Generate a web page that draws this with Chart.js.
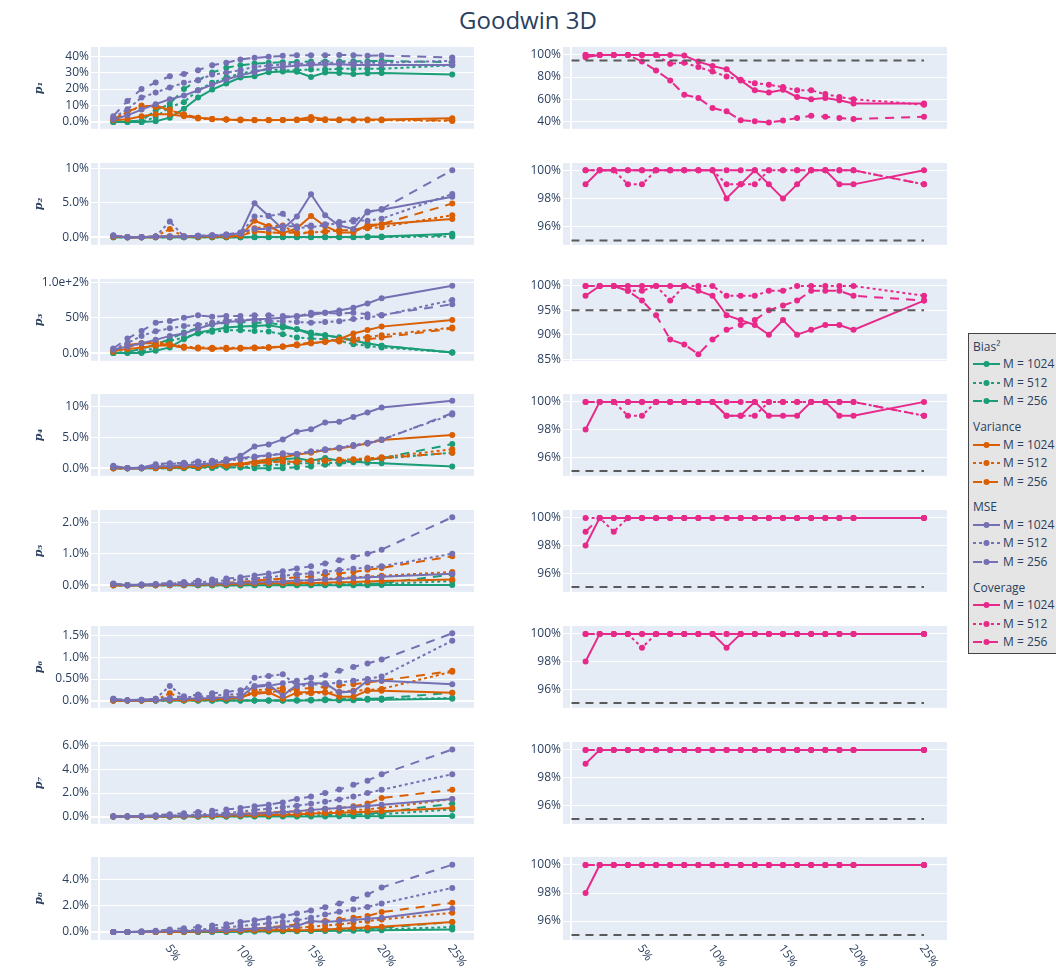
<!DOCTYPE html>
<html><head><meta charset="utf-8">
<script src="https://cdn.jsdelivr.net/npm/chart.js@4/dist/chart.umd.min.js"></script>
<style>
body{margin:0;background:#fff;width:1056px;height:972px;overflow:hidden;position:relative;font-family:"Open Sans",sans-serif;}
canvas{position:absolute;}
#title{position:absolute;left:0;width:1056px;top:5px;line-height:30px;text-align:center;font-size:24px;color:#2a3f5f;}
#legend{position:absolute;left:968px;top:333px;width:100px;height:321px;background:#e5e5e5;border:1px solid #444;box-sizing:border-box;}
#legend div{position:absolute;font-size:12px;line-height:16px;color:#2a3f5f;white-space:nowrap;}
#legend svg{position:absolute;}
</style></head><body>
<div id="title">Goodwin 3D</div>
<div id="legend"></div>
<script>
// ---------- data (percent units) ----------
const X_PCT = [1,2,3,4,5,6,7,8,9,10,11,12,13,14,15,16,17,18,19,20,25];
const X_TICKS = [5,10,15,20,25];
const X_TICK_LABELS = ['5%','10%','15%','20%','25%'];
const PARAM_NAMES = ['p₁','p₂','p₃','p₄','p₅','p₆','p₇','p₈'];
const GROUP_NAMES = ['Bias²','Variance','MSE','Coverage'];
const M_LABELS = ['M = 1024','M = 512','M = 256'];
const COVERAGE_TARGET = 95;

const P1_BIAS_1024 = [0.0,0.0,0.0,0.4,2.6,8.0,14.8,19.7,23.4,27.0,27.8,30.3,30.7,30.5,27.4,30.0,29.8,29.2,29.6,29.8,28.8];
const P1_BIAS_512  = [0.0,0.0,0.0,3.0,9.0,12.0,19.3,23.8,27.0,29.4,31.0,31.9,31.5,31.5,31.9,31.9,32.3,32.3,32.3,32.3,34.5];
const P1_BIAS_256  = [0.0,0.4,0.8,7.0,11.0,20.0,25.4,30.0,33.0,34.5,35.5,36.0,36.3,36.5,36.8,36.8,36.8,37.0,37.0,37.2,36.3];
const P1_VAR_1024  = [1.0,1.6,3.5,4.7,4.7,3.5,2.6,1.8,1.4,1.0,1.0,1.0,1.2,1.4,3.0,1.6,1.4,1.4,1.4,1.4,2.2];
const P1_VAR_512   = [1.0,6.0,10.0,9.0,7.5,4.0,2.0,1.6,1.4,1.2,1.2,1.2,1.2,1.2,1.6,1.2,1.0,1.0,1.0,1.0,0.6];
const P1_VAR_256   = [1.6,6.5,9.1,10.2,7.0,4.7,2.6,1.8,1.4,1.4,1.2,1.2,1.2,1.2,1.2,1.2,1.2,1.2,1.2,1.2,1.0];
const P1_MSE_1024  = [1.4,4.0,7.5,10.8,13.8,16.0,19.3,22.7,25.8,28.4,30.3,32.7,33.5,34.3,34.7,35.1,35.1,34.7,34.7,34.7,34.7];
const P1_MSE_512   = [2.6,7.7,14.8,17.9,21.0,23.8,25.4,28.8,30.0,31.5,33.5,34.3,35.0,35.3,35.7,36.0,36.0,36.0,36.0,36.0,37.2];
const P1_MSE_256   = [3.5,12.8,20.0,24.0,27.8,29.2,31.5,34.5,36.0,38.0,39.0,39.6,40.2,40.6,40.6,40.6,40.8,40.6,40.2,40.4,39.2];
const P1_COV_1024  = [98,100,100,100,100,100,100,99.4,94,90,87,77,68,66,68.5,62,60,61,59,56,56];
const P1_COV_512   = [100,100,100,100,100,100,92,93,89,85,80.5,77.5,74.5,73,71,68,68,64.6,62,60,55];
const P1_COV_256   = [100,100,100,100,94,86,77,64,61,52,49,41,40,39,40.6,43,45,44,43,42,44];

const P2_BIAS_1024 = [0,0,0,0,0,0,0,0,0,0,0.05,0.05,0.05,0.05,0.05,0.05,0.05,0.05,0.1,0.1,0.5];
const P2_BIAS_512  = [0,0,0,0,0,0,0,0,0,0,0,0,0,0,0,0,0,0,0.02,0.02,0.1];
const P2_BIAS_256  = [0,0,0,0,0,0,0,0,0,0,0.02,0.02,0.02,0.02,0.02,0.02,0.03,0.03,0.05,0.05,0.3];
const P2_VAR_1024  = [0.1,0.0,0.0,0.1,0.1,0.1,0.1,0.1,0.1,0.2,2.4,1.6,0.6,1.3,3.1,1.6,0.7,0.7,1.8,1.9,2.65];
const P2_VAR_512   = [0.1,0.0,0.0,0.1,1.2,0.1,0.1,0.1,0.1,0.2,1.3,1.6,1.7,0.5,0.7,0.8,1.0,1.05,1.3,1.45,3.2];
const P2_VAR_256   = [0.1,0.0,0.0,0.0,0.1,0.1,0.1,0.1,0.1,0.2,0.85,0.7,0.6,0.7,0.7,0.85,1.0,1.05,1.5,1.9,4.9];
const P2_MSE_1024  = [0.2,0.0,0.0,0.1,0.1,0.1,0.2,0.2,0.3,0.6,4.95,3.1,1.2,3.0,6.25,3.2,1.7,1.2,3.75,4.0,5.9];
const P2_MSE_512   = [0.3,0.0,0.0,0.1,2.3,0.1,0.2,0.3,0.4,0.5,3.0,3.1,3.4,1.3,1.5,1.7,2.1,2.5,2.4,2.7,6.3];
const P2_MSE_256   = [0.2,0.0,0.0,0.1,0.1,0.1,0.2,0.3,0.4,0.7,1.2,1.2,1.6,1.6,1.7,1.9,2.2,2.3,3.6,4.1,9.75];
const P2_COV_1024  = [99,100,100,100,100,100,100,100,100,100,98,99,100,99,98,99,100,100,99,99,100];
const P2_COV_512   = [100,100,100,99,99,100,100,100,100,100,99,99,99,100,100,100,100,100,100,100,99];
const P2_COV_256   = [100,100,100,100,100,100,100,100,100,100,100,100,100,100,100,100,100,100,100,100,99];

const P3_BIAS_1024 = [0,0,0,3.3,8,19.6,29,32.2,36,37.4,38.3,39.3,36,33.6,26.6,25.2,22,17.3,14,10.3,0.9];
const P3_BIAS_512  = [0,0.5,1.5,8,17.3,22,27.6,30,32.2,32.2,31.3,30.4,26.6,22,20.6,19.6,17.3,12.6,10.3,8,0.9];
const P3_BIAS_256  = [0,2,5.6,12.6,19.6,29,35.5,40.7,43,44,43,43,39.3,33.6,29,25.2,22,18.7,12.6,10.3,0.9];
const P3_VAR_1024  = [3.3,5.6,8,10.3,11.2,8,7,6.5,6.5,6.5,7,7.5,8.9,11.2,14,15.9,19.6,27.6,32.7,37.4,46.7];
const P3_VAR_512   = [1.9,8,14,15.9,12.6,9.3,8,7.5,7.5,7.5,8,8.4,9.3,11.2,14,15.9,18.2,20.6,22.9,25.2,36];
const P3_VAR_256   = [3.3,11.2,14,14,11.2,7.5,6.5,5.6,5.6,6.5,7.5,8,9.3,12.6,15,15.9,16.4,17.3,19.6,22,34.6];
const P3_MSE_1024  = [4.7,9.3,14,18.7,24.3,27.6,34.6,40.7,44,45.3,47.7,48.6,50,52.3,53.7,57,60.3,64,70,77.6,95.3];
const P3_MSE_512   = [5.6,14,24.3,30.8,35,38.3,39.7,43,46.3,47.7,46.7,45.3,44.9,44,43,44,45,48,50.5,53,75];
const P3_MSE_256   = [6.5,20.6,31.3,43,45.3,50,53.3,51.4,52.3,52.3,53.3,53.3,52.3,51.4,57,57,56,57,55,54,69];
const P3_COV_1024  = [98,100,100,100,100,100,100,100,99,98,94,93,92,90,93,90,91,92,92,91,97];
const P3_COV_512   = [100,100,100,99,99,100,97,100,100,100,98,98,98,99,99,100,100,100,100,100,98];
const P3_COV_256   = [100,100,100,99,97,94,89,88,86,89,91,92,93,95,96,97,99,99,99,98,97];

const P4_BIAS_1024 = [0,0,0,0.05,0.05,0.1,0.15,0.25,0.35,0.55,1.07,1.2,1.45,1.6,1.2,1.65,1.2,1.07,0.9,0.8,0.27];
const P4_BIAS_512  = [0,0,0,0,0,0.05,0.05,0.1,0.1,0.15,0.35,0.5,0.6,0.8,0.8,0.8,0.9,1.07,1.35,1.55,2.5];
const P4_BIAS_256  = [0,0,0,0,0,0,0.05,0.05,0.1,0.1,0,0,0,0.15,0.27,0.55,0.7,0.96,1.35,1.6,3.9];
const P4_VAR_1024  = [0,0,0,0.1,0.15,0.25,0.4,0.55,0.65,0.7,1.07,1.45,1.75,2.2,2.5,2.95,3.2,3.6,4.0,4.55,5.35];
const P4_VAR_512   = [0,0,0,0.05,0.1,0.15,0.2,0.35,0.45,0.6,0.8,1.0,1.07,1.1,1.2,1.2,1.35,1.45,1.6,1.75,3.05];
const P4_VAR_256   = [0,0,0,0.05,0.1,0.15,0.2,0.35,0.45,0.6,0.8,0.96,1.07,1.0,1.2,1.25,1.25,1.35,1.45,1.6,2.5];
const P4_MSE_1024  = [0.4,0,0,0.27,0.37,0.5,0.6,0.8,1.07,2.0,3.5,3.85,4.65,5.9,6.3,7.4,7.5,8.3,9.0,9.8,10.9];
const P4_MSE_512   = [0.25,0,0.1,0.5,0.7,0.8,0.96,1.1,1.2,1.45,1.75,2.1,2.4,2.3,2.7,3.05,3.3,3.75,4.1,4.65,8.7];
const P4_MSE_256   = [0.15,0,0.1,0.65,0.8,0.9,1.1,1.2,1.45,1.6,1.9,2.1,2.3,2.3,2.7,2.95,3.3,3.6,4.0,4.55,8.9];
const P4_COV_1024  = [98,100,100,100,100,100,100,100,100,100,99,99,100,99,99,99,100,100,99,99,100];
const P4_COV_512   = [100,100,100,99,99,100,100,100,100,100,99,99,99,100,100,100,100,100,100,100,99];
const P4_COV_256   = [100,100,100,100,100,100,100,100,100,100,100,100,100,100,100,100,100,100,100,100,99];

const P5_BIAS_1024 = [0,0,0,0,0,0,0,0,0,0,0,0,0,0,0,0,0,0,0,0.005,0.01];
const P5_BIAS_512  = [0,0,0,0,0,0,0,0,0,0,0.01,0.01,0.01,0.02,0.02,0.02,0.03,0.03,0.04,0.04,0.13];
const P5_BIAS_256  = [0,0,0,0,0,0,0,0,0,0,0.01,0.01,0.01,0.01,0.02,0.02,0.02,0.02,0.04,0.06,0.34];
const P5_VAR_1024  = [0,0,0,0,0.01,0.01,0.02,0.02,0.03,0.04,0.05,0.05,0.06,0.07,0.07,0.08,0.09,0.1,0.12,0.13,0.18];
const P5_VAR_512   = [0,0,0,0.01,0.01,0.02,0.03,0.04,0.05,0.07,0.09,0.1,0.12,0.14,0.15,0.2,0.22,0.25,0.27,0.3,0.42];
const P5_VAR_256   = [0,0,0,0.01,0.02,0.03,0.04,0.06,0.08,0.1,0.15,0.18,0.21,0.25,0.28,0.34,0.38,0.42,0.49,0.55,0.92];
const P5_MSE_1024  = [0.04,0,0.01,0.02,0.02,0.03,0.04,0.05,0.06,0.07,0.09,0.1,0.12,0.15,0.16,0.18,0.2,0.23,0.25,0.27,0.36];
const P5_MSE_512   = [0.04,0,0.02,0.03,0.05,0.07,0.09,0.12,0.15,0.18,0.21,0.25,0.3,0.34,0.38,0.42,0.48,0.52,0.56,0.6,1.0];
const P5_MSE_256   = [0.05,0.01,0.02,0.04,0.07,0.1,0.14,0.18,0.21,0.25,0.31,0.37,0.44,0.53,0.6,0.69,0.79,0.9,1.0,1.13,2.16];
const P5_COV_1024  = [98,100,100,100,100,100,100,100,100,100,100,100,100,100,100,100,100,100,100,100,100];
const P5_COV_512   = [100,100,99,100,100,100,100,100,100,100,100,100,100,100,100,100,100,100,100,100,100];
const P5_COV_256   = [99,100,100,100,100,100,100,100,100,100,100,100,100,100,100,100,100,100,100,100,100];

const P6_BIAS_1024 = [0,0,0,0,0,0,0,0,0,0,0,0,0,0,0,0.01,0.01,0.01,0.02,0.02,0.04];
const P6_BIAS_512  = [0,0,0,0,0,0,0,0,0,0,0,0,0,0,0.01,0.02,0.02,0.03,0.03,0.03,0.06];
const P6_BIAS_256  = [0,0,0,0,0,0,0,0,0,0,0,0,0,0.01,0.02,0.03,0.03,0.04,0.04,0.05,0.18];
const P6_VAR_1024  = [0,0,0,0,0.02,0.01,0.02,0.03,0.04,0.06,0.19,0.19,0.04,0.19,0.2,0.2,0.09,0.09,0.23,0.23,0.18];
const P6_VAR_512   = [0,0,0,0.01,0.17,0.03,0.04,0.05,0.06,0.08,0.24,0.26,0.29,0.15,0.17,0.18,0.2,0.23,0.24,0.27,0.67];
const P6_VAR_256   = [0,0,0,0.01,0.02,0.03,0.04,0.06,0.08,0.11,0.15,0.19,0.23,0.27,0.29,0.32,0.35,0.38,0.42,0.46,0.69];
const P6_MSE_1024  = [0.02,0,0.01,0.01,0.03,0.04,0.05,0.06,0.07,0.08,0.34,0.37,0.11,0.37,0.4,0.4,0.19,0.21,0.46,0.46,0.38];
const P6_MSE_512   = [0.04,0.01,0.02,0.04,0.34,0.08,0.09,0.11,0.14,0.15,0.53,0.57,0.61,0.34,0.37,0.38,0.42,0.46,0.5,0.56,1.39];
const P6_MSE_256   = [0.04,0.01,0.02,0.04,0.06,0.1,0.14,0.17,0.2,0.24,0.32,0.34,0.4,0.46,0.53,0.59,0.69,0.78,0.86,0.95,1.56];
const P6_COV_1024  = [98,100,100,100,100,100,100,100,100,100,99,100,100,100,100,100,100,100,100,100,100];
const P6_COV_512   = [100,100,100,100,99,100,100,100,100,100,100,100,100,100,100,100,100,100,100,100,100];
const P6_COV_256   = [100,100,100,100,100,100,100,100,100,100,100,100,100,100,100,100,100,100,100,100,100];

const P7_BIAS_1024 = [0,0,0,0,0,0,0,0,0,0,0,0,0,0,0,0.01,0.02,0.02,0.03,0.03,0.05];
const P7_BIAS_512  = [0,0,0,0,0,0,0,0,0.01,0.02,0.03,0.05,0.07,0.09,0.1,0.12,0.14,0.16,0.18,0.2,0.6];
const P7_BIAS_256  = [0,0,0,0,0,0,0.01,0.02,0.03,0.04,0.05,0.06,0.08,0.1,0.1,0.12,0.14,0.17,0.22,0.34,1.1];
const P7_VAR_1024  = [0,0,0,0,0.01,0.02,0.03,0.04,0.06,0.08,0.1,0.12,0.15,0.18,0.25,0.28,0.31,0.37,0.4,0.45,0.73];
const P7_VAR_512   = [0,0,0,0.01,0.02,0.03,0.05,0.07,0.09,0.12,0.15,0.18,0.22,0.28,0.33,0.38,0.45,0.53,0.62,0.73,1.48];
const P7_VAR_256   = [0,0,0,0.02,0.03,0.05,0.07,0.1,0.14,0.22,0.3,0.35,0.4,0.45,0.55,0.64,0.73,0.87,1.1,1.57,2.27];
const P7_MSE_1024  = [0,0,0.01,0.02,0.04,0.06,0.09,0.12,0.16,0.2,0.25,0.3,0.37,0.45,0.55,0.65,0.73,0.8,0.9,1.0,1.5];
const P7_MSE_512   = [0,0,0.02,0.05,0.08,0.12,0.17,0.23,0.3,0.4,0.56,0.66,0.78,0.92,1.08,1.25,1.45,1.7,2.0,2.27,3.6];
const P7_MSE_256   = [0.03,0.03,0.06,0.11,0.2,0.28,0.39,0.48,0.59,0.73,0.87,1.0,1.2,1.5,1.7,2.0,2.3,2.7,3.05,3.6,5.7];
const P7_COV_1024  = [99,100,100,100,100,100,100,100,100,100,100,100,100,100,100,100,100,100,100,100,100];
const P7_COV_512   = [100,100,100,100,100,100,100,100,100,100,100,100,100,100,100,100,100,100,100,100,100];
const P7_COV_256   = [100,100,100,100,100,100,100,100,100,100,100,100,100,100,100,100,100,100,100,100,100];

const P8_BIAS_1024 = [0,0,0,0,0,0,0,0,0.01,0.02,0.03,0.04,0.05,0.06,0.07,0.08,0.09,0.1,0.11,0.13,0.2];
const P8_BIAS_512  = [0,0,0,0,0,0,0.01,0.02,0.03,0.04,0.05,0.07,0.08,0.1,0.11,0.13,0.14,0.16,0.18,0.2,0.38];
const P8_BIAS_256  = [0,0,0,0,0.01,0.02,0.03,0.04,0.05,0.06,0.08,0.1,0.12,0.14,0.16,0.2,0.23,0.26,0.3,0.33,0.76];
const P8_VAR_1024  = [0,0,0,0,0.01,0.02,0.03,0.05,0.07,0.09,0.11,0.14,0.16,0.13,0.15,0.2,0.25,0.3,0.35,0.4,0.76];
const P8_VAR_512   = [0,0,0,0.01,0.02,0.04,0.06,0.08,0.1,0.13,0.17,0.2,0.25,0.3,0.4,0.5,0.58,0.71,0.84,0.96,1.47];
const P8_VAR_256   = [0,0,0,0.02,0.04,0.06,0.09,0.13,0.17,0.22,0.25,0.35,0.46,0.58,0.76,0.84,0.96,1.09,1.22,1.52,2.23];
const P8_MSE_1024  = [0,0,0.01,0.03,0.05,0.08,0.1,0.12,0.15,0.2,0.25,0.3,0.38,0.46,0.84,0.76,0.84,0.91,1.01,1.09,1.77];
const P8_MSE_512   = [0,0,0.02,0.05,0.08,0.12,0.18,0.28,0.36,0.46,0.56,0.66,0.76,0.9,1.09,1.34,1.54,1.72,1.92,2.18,3.37];
const P8_MSE_256   = [0,0,0.05,0.1,0.2,0.28,0.38,0.5,0.6,0.76,0.89,1.04,1.2,1.42,1.65,1.9,2.18,2.53,2.86,3.4,5.14];
const P8_COV_1024  = [98,100,100,100,100,100,100,100,100,100,100,100,100,100,100,100,100,100,100,100,100];
const P8_COV_512   = [100,100,100,100,100,100,100,100,100,100,100,100,100,100,100,100,100,100,100,100,100];
const P8_COV_256   = [100,100,100,100,100,100,100,100,100,100,100,100,100,100,100,100,100,100,100,100,100];

// y tick values per row (left metrics, right coverage)
const LEFT_TICKS  = [[0,10,20,30,40],[0,5,10],[0,50,100],[0,5,10],[0,1,2],[0,0.5,1,1.5],[0,2,4,6],[0,2,4]];
const RIGHT_TICKS = [[40,60,80,100],[96,98,100],[85,90,95,100],[96,98,100],[96,98,100],[96,98,100],[96,98,100],[96,98,100]];

// ---------- assembly ----------
const ROWS = [
  [[P1_BIAS_1024,P1_BIAS_512,P1_BIAS_256],[P1_VAR_1024,P1_VAR_512,P1_VAR_256],[P1_MSE_1024,P1_MSE_512,P1_MSE_256],[P1_COV_1024,P1_COV_512,P1_COV_256]],
  [[P2_BIAS_1024,P2_BIAS_512,P2_BIAS_256],[P2_VAR_1024,P2_VAR_512,P2_VAR_256],[P2_MSE_1024,P2_MSE_512,P2_MSE_256],[P2_COV_1024,P2_COV_512,P2_COV_256]],
  [[P3_BIAS_1024,P3_BIAS_512,P3_BIAS_256],[P3_VAR_1024,P3_VAR_512,P3_VAR_256],[P3_MSE_1024,P3_MSE_512,P3_MSE_256],[P3_COV_1024,P3_COV_512,P3_COV_256]],
  [[P4_BIAS_1024,P4_BIAS_512,P4_BIAS_256],[P4_VAR_1024,P4_VAR_512,P4_VAR_256],[P4_MSE_1024,P4_MSE_512,P4_MSE_256],[P4_COV_1024,P4_COV_512,P4_COV_256]],
  [[P5_BIAS_1024,P5_BIAS_512,P5_BIAS_256],[P5_VAR_1024,P5_VAR_512,P5_VAR_256],[P5_MSE_1024,P5_MSE_512,P5_MSE_256],[P5_COV_1024,P5_COV_512,P5_COV_256]],
  [[P6_BIAS_1024,P6_BIAS_512,P6_BIAS_256],[P6_VAR_1024,P6_VAR_512,P6_VAR_256],[P6_MSE_1024,P6_MSE_512,P6_MSE_256],[P6_COV_1024,P6_COV_512,P6_COV_256]],
  [[P7_BIAS_1024,P7_BIAS_512,P7_BIAS_256],[P7_VAR_1024,P7_VAR_512,P7_VAR_256],[P7_MSE_1024,P7_MSE_512,P7_MSE_256],[P7_COV_1024,P7_COV_512,P7_COV_256]],
  [[P8_BIAS_1024,P8_BIAS_512,P8_BIAS_256],[P8_VAR_1024,P8_VAR_512,P8_VAR_256],[P8_MSE_1024,P8_MSE_512,P8_MSE_256],[P8_COV_1024,P8_COV_512,P8_COV_256]]
];

// ---------- layout / style ----------
const GROUP_COLORS = ['#1b9e77','#d95f02','#7570b3','#e7298a'];
const M_DASHES = [[], [3,3], [9,7]];
const REF_COLOR = '#5a5a5a';
const REF_DASH = [8,6];
const ROW_TOP = [47,163,279,394,510,626,742,857];
const PLOT_H = 83;
const LEFT_RANGE  = [[-4.2,45.6],[-1.1,10.8],[-10.9,104.7],[-1.23,12.0],[-0.21,2.39],[-0.168,1.73],[-0.62,6.34],[-0.61,5.73]];
const RIGHT_RANGE = [[33.2,107.2],[94.7,100.52],[84.65,101.43],[94.65,100.57],[94.65,100.57],[94.65,100.57],[94.65,100.57],[94.65,100.57]];
const X_RANGE_L = [-0.58, 26.54];
const X_RANGE_R = [-0.6, 26.63];

Chart.defaults.font.family = '"Open Sans", sans-serif';
Chart.defaults.font.size = 12;
Chart.defaults.color = '#2a3f5f';

const bgPlugin = {
  id: 'plotbg',
  beforeDraw(chart) {
    const a = chart.chartArea, ctx = chart.ctx;
    ctx.save(); ctx.fillStyle = '#e5ecf6';
    ctx.fillRect(a.left, a.top, a.right - a.left, a.bottom - a.top);
    ctx.restore();
  }
};
const xLabelPlugin = {
  id: 'xlab',
  afterDraw(chart, args, opts) {
    if (!opts || !opts.show) return;
    const ctx = chart.ctx, xs = chart.scales.x, b = chart.chartArea.bottom;
    ctx.save();
    ctx.font = '12px "Open Sans", sans-serif';
    ctx.fillStyle = '#2a3f5f';
    ctx.textAlign = 'left'; ctx.textBaseline = 'middle';
    X_TICKS.forEach((v, i) => {
      const px = xs.getPixelForValue(v);
      ctx.save();
      ctx.translate(px - 2, b + 6);
      ctx.rotate(55 * Math.PI / 180);
      ctx.fillText(X_TICK_LABELS[i], 0, 0);
      ctx.restore();
    });
    ctx.restore();
  }
};

function series(arr, color, dash, label) {
  return {
    label, data: X_PCT.map((x, i) => ({x, y: arr[i]})),
    borderColor: color, backgroundColor: color, borderWidth: 2, borderDash: dash,
    pointRadius: 3, pointBorderWidth: 0, pointBackgroundColor: color,
    tension: 0, fill: false
  };
}

function build(r, left) {
  const last = r === ROWS.length - 1;
  const padT = 10, padB = last ? 36 : 8;
  const cv = document.createElement('canvas');
  const w = left ? 478 : 461;
  cv.width = w; cv.height = PLOT_H + padT + padB;
  cv.style.left = (left ? 0 : 490) + 'px';
  cv.style.top = (ROW_TOP[r] - padT) + 'px';
  document.body.appendChild(cv);
  const yw = left ? 91 : 73;
  let ds = [];
  if (left) {
    for (let g = 0; g < 3; g++) for (let m = 0; m < 3; m++)
      ds.push(series(ROWS[r][g][m], GROUP_COLORS[g], M_DASHES[m], GROUP_NAMES[g] + ' ' + M_LABELS[m]));
  } else {
    for (let m = 0; m < 3; m++)
      ds.push(series(ROWS[r][3][m], GROUP_COLORS[3], M_DASHES[m], 'Coverage ' + M_LABELS[m]));
    ds.push({label: 'target', data: [{x: 0, y: COVERAGE_TARGET}, {x: 25, y: COVERAGE_TARGET}],
      borderColor: REF_COLOR, borderWidth: 2, borderDash: REF_DASH, pointRadius: 0, fill: false});
  }
  ds = ds.reverse();
  const ticks = left ? LEFT_TICKS[r] : RIGHT_TICKS[r];
  const rng = left ? LEFT_RANGE[r] : RIGHT_RANGE[r];
  const xr = left ? X_RANGE_L : X_RANGE_R;
  new Chart(cv, {
    type: 'line',
    data: {datasets: ds},
    options: {
      responsive: false, animation: false, devicePixelRatio: 1,
      layout: {padding: {top: padT, bottom: padB, left: 0, right: 0}},
      plugins: {legend: {display: false}, tooltip: {enabled: false}, title: {display: false}, xlab: {show: last}},
      scales: {
        x: {
          type: 'linear', min: xr[0], max: xr[1],
          afterFit: s => { s.height = 0; },
          afterBuildTicks: s => { s.ticks = [{value: 0}]; },
          ticks: {display: false},
          grid: {drawTicks: false, color: '#ffffff', lineWidth: 2},
          border: {display: false}
        },
        y: {
          type: 'linear', min: rng[0], max: rng[1],
          afterFit: s => { s.width = yw; },
          afterBuildTicks: s => { s.ticks = ticks.map(v => ({value: v})); },
          ticks: {padding: 2, color: '#2a3f5f', font: {size: 12},
            callback: v => left ? Number(v).toPrecision(2) + '%' : v + '%'},
          grid: {drawTicks: false, color: '#ffffff', lineWidth: c => (c.tick && c.tick.value === 0) ? 2 : 1},
          border: {display: false},
          title: left ? {display: true, text: PARAM_NAMES[r], color: '#2a3f5f',
            font: {size: 11, weight: 'bold', style: 'italic', family: '"DejaVu Serif", serif'},
            padding: {top: 33, bottom: 0}} : {display: false}
        }
      }
    },
    plugins: [bgPlugin, xLabelPlugin]
  });
}

for (let r = 0; r < ROWS.length; r++) { build(r, true); build(r, false); }

// ---------- legend ----------
const leg = document.getElementById('legend');
GROUP_NAMES.forEach((g, gi) => {
  const ty = 12.7 + 80.3 * gi;
  const t = document.createElement('div');
  t.textContent = g; t.style.left = '4px'; t.style.top = (ty - 8) + 'px';
  leg.appendChild(t);
  M_LABELS.forEach((m, mi) => {
    const iy = ty + 17.6 + 18.5 * mi;
    const ns = 'http://www.w3.org/2000/svg';
    const svg = document.createElementNS(ns, 'svg');
    svg.setAttribute('width', '28'); svg.setAttribute('height', '10');
    svg.style.left = '4px'; svg.style.top = (iy - 5) + 'px';
    const ln = document.createElementNS(ns, 'line');
    ln.setAttribute('x1', '0'); ln.setAttribute('x2', '27'); ln.setAttribute('y1', '5'); ln.setAttribute('y2', '5');
    ln.setAttribute('stroke', GROUP_COLORS[gi]); ln.setAttribute('stroke-width', '2');
    if (M_DASHES[mi].length) ln.setAttribute('stroke-dasharray', M_DASHES[mi].join(','));
    const ci = document.createElementNS(ns, 'circle');
    ci.setAttribute('cx', '13.5'); ci.setAttribute('cy', '5'); ci.setAttribute('r', '3');
    ci.setAttribute('fill', GROUP_COLORS[gi]);
    svg.appendChild(ln); svg.appendChild(ci);
    leg.appendChild(svg);
    const d = document.createElement('div');
    d.textContent = m; d.style.left = '34px'; d.style.top = (iy - 8) + 'px';
    leg.appendChild(d);
  });
});
</script>
</body></html>
